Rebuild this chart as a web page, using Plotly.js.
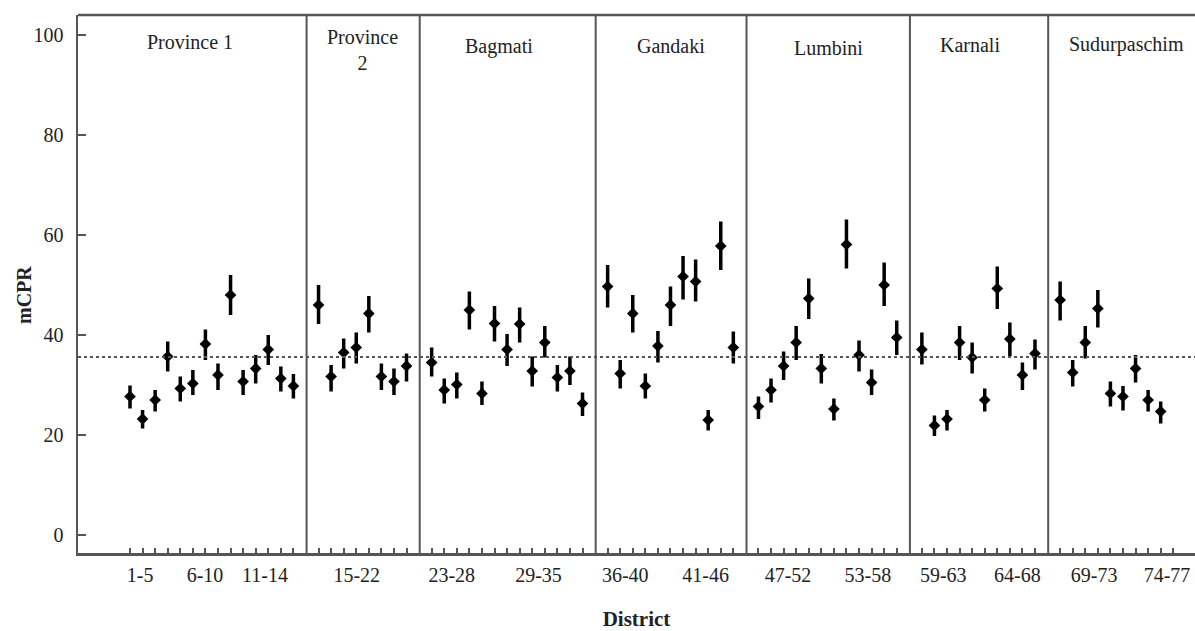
<!DOCTYPE html>
<html>
<head>
<meta charset="utf-8">
<script src="https://cdn.plot.ly/plotly-3.0.1.min.js"></script>
<style>html,body{margin:0;padding:0;background:#fff;}#chart{width:1195px;height:631px;}</style>
</head>
<body>
<div id="chart"></div>
<script>
// Provinces (in order) and the district count of each
const provinces = ["Province 1", "Province<br>2", "Bagmati", "Gandaki", "Lumbini", "Karnali", "Sudurpaschim"];
const provinceSizes = [14, 8, 13, 11, 12, 10, 9];

// District numbers 1..77
const districts = [
  1,2,3,4,5,6,7,8,9,10,11,12,13,14,
  15,16,17,18,19,20,21,22,
  23,24,25,26,27,28,29,30,31,32,33,34,35,
  36,37,38,39,40,41,42,43,44,45,46,
  47,48,49,50,51,52,53,54,55,56,57,58,
  59,60,61,62,63,64,65,66,67,68,
  69,70,71,72,73,74,75,76,77
];

// mCPR estimates
const mcpr = [
  27.7,23.2,27.0,35.7,29.3,30.3,38.2,32.0,48.0,30.7,33.3,37.1,31.3,29.8,
  46.0,31.7,36.5,37.5,44.3,31.7,30.7,33.8,
  34.5,29.0,30.1,45.0,28.3,42.3,37.1,42.2,32.8,38.5,31.5,32.8,26.3,
  49.7,32.3,44.3,29.8,37.8,46.0,51.7,50.7,23.0,57.8,37.5,
  25.7,29.0,33.8,38.5,47.3,33.3,25.2,58.1,36.0,30.5,50.0,39.5,
  37.1,21.9,23.2,38.5,35.5,27.0,49.3,39.2,32.0,36.3,
  47.0,32.5,38.5,45.3,28.3,27.7,33.3,27.0,24.7
];
// Lower and upper interval limits
const lower = [
  25.3,21.3,24.7,32.7,26.7,28.0,35.0,29.0,44.0,28.0,30.3,34.0,28.7,27.3,
  42.2,28.7,33.3,34.3,40.5,29.0,28.0,30.7,
  31.7,26.3,27.3,41.1,26.0,38.7,33.8,38.5,29.7,35.5,28.7,30.0,23.8,
  45.5,29.3,40.5,27.3,34.5,41.8,47.1,46.7,20.9,53.0,34.3,
  23.2,26.5,31.0,35.0,43.2,30.3,22.9,53.3,32.7,28.0,45.8,36.0,
  34.1,19.8,20.9,35.0,32.3,24.7,45.2,35.7,29.0,33.1,
  42.9,29.7,35.3,41.5,25.7,24.9,30.5,24.7,22.3
];
const upper = [
  29.9,25.0,29.0,38.7,31.7,33.0,41.1,34.3,52.0,33.0,36.0,40.0,33.7,32.2,
  50.0,34.0,39.3,40.5,47.8,34.3,33.3,36.3,
  37.5,31.3,32.5,48.7,30.7,45.8,40.2,45.5,35.7,41.8,34.0,35.7,28.5,
  54.0,35.0,48.0,32.3,40.8,49.7,55.8,55.1,25.0,62.7,40.7,
  27.7,31.3,36.7,41.8,51.3,36.2,27.3,63.1,38.9,33.1,54.5,42.9,
  40.5,23.9,25.0,41.8,38.5,29.3,53.7,42.5,34.5,39.1,
  50.7,35.0,41.8,49.0,30.7,29.8,36.0,29.0,26.7
];

// National reference level (dotted line)
const nationalMCPR = 35.6;

// Bottom axis group labels
const groupLabels = ["1-5","6-10","11-14","15-22","23-28","29-35","36-40","41-46","47-52","53-58","59-63","64-68","69-73","74-77"];
const groupLabelPos = [1.8, 6.97, 11.74, 19.04, 26.6, 33.5, 40.4, 46.8, 53.35, 59.7, 65.7, 71.6, 77.7, 83.5];

// y-axis ticks
const yTicks = [0, 20, 40, 60, 80, 100];

// --- build slot positions: each province is followed by one empty slot for its divider
const provinceOfDistrict = [];
provinceSizes.forEach((n, p) => { for (let i = 0; i < n; i++) provinceOfDistrict.push(p); });
const slot = districts.map((d, i) => d + provinceOfDistrict[i]);
const tickSlots = slot.concat([slot[slot.length - 1] + 1]);

// divider positions (slot after each province's last district)
const dividers = [];
let cum = 0;
provinceSizes.forEach((n, p) => {
  cum += n;
  if (p < provinceSizes.length - 1) dividers.push(cum + p + 1.05);
});

// province label positions
const provLabelX = [5.77, 19.46, 30.36, 44.04, 56.6, 67.8, 80.3];
const provLabelY = [98.6, 97.0, 97.7, 97.9, 97.5, 98.1, 98.1];

const font = "Liberation Serif";
const axisCol = "#555";

const trace = {
  x: slot,
  y: mcpr,
  type: "scatter",
  mode: "markers",
  marker: { symbol: "diamond", size: 9, color: "#000" },
  error_y: {
    type: "data",
    symmetric: false,
    array: upper.map((u, i) => u - mcpr[i]),
    arrayminus: mcpr.map((m, i) => m - lower[i]),
    color: "#000",
    thickness: 3.5,
    width: 0
  },
  showlegend: false,
  hoverinfo: "x+y"
};

const shapes = [];
dividers.forEach(dx => shapes.push({
  type: "line", xref: "x", yref: "paper", x0: dx, x1: dx, y0: 0, y1: 1,
  line: { color: axisCol, width: 2 }
}));
// top border
shapes.push({ type: "line", xref: "paper", yref: "paper", x0: 0, x1: 1, y0: 1, y1: 1, line: { color: axisCol, width: 2.5 } });
// national dotted line
shapes.push({ type: "line", xref: "paper", yref: "y", x0: 0, x1: 1, y0: nationalMCPR, y1: nationalMCPR,
  line: { color: "#555", width: 2, dash: "dot" } });

const annotations = provinces.map((p, i) => ({
  x: provLabelX[i], y: provLabelY[i], xref: "x", yref: "y",
  text: p, showarrow: false, xanchor: "center", yanchor: "middle",
  font: { family: font, size: 20, color: "#222" }
}));
// y-axis title placed as a rotated annotation
annotations.push({
  x: 0, xref: "paper", xshift: -54, y: 48, yref: "y",
  text: "<b>mCPR</b>", textangle: -90, showarrow: false,
  xanchor: "center", yanchor: "middle",
  font: { family: font, size: 20, color: "#222" }
});

const layout = {
  width: 1195, height: 631,
  margin: { l: 78, r: 0, t: 15, b: 78, pad: 0 },
  paper_bgcolor: "#fff", plot_bgcolor: "#fff",
  font: { family: font, size: 20, color: "#222" },
  xaxis: {
    range: [-3.137, 85.73],
    tickmode: "array", tickvals: tickSlots, ticktext: tickSlots.map(() => ""),
    ticks: "inside", ticklen: 5, tickwidth: 2, tickcolor: axisCol,
    showline: true, linecolor: axisCol, linewidth: 2.5,
    showgrid: false, zeroline: false,
    title: { text: "<b>District</b>", font: { family: font, size: 21, color: "#222" }, standoff: 58 }
  },
  xaxis2: {
    overlaying: "x", anchor: "y", side: "bottom",
    range: [-3.137, 85.73],
    tickmode: "array", tickvals: groupLabelPos, ticktext: groupLabels,
    ticks: "", showline: false, showgrid: false, zeroline: false,
    ticklabelstandoff: 8,
    tickfont: { family: font, size: 20, color: "#222" }
  },
  yaxis: {
    range: [-3.6, 104],
    tickmode: "array", tickvals: yTicks,
    ticks: "inside", ticklen: 8, tickwidth: 2, tickcolor: axisCol,
    showline: true, linecolor: axisCol, linewidth: 2.5,
    showgrid: false, zeroline: false,
    ticklabelstandoff: 8,
    tickfont: { family: font, size: 20, color: "#222" }
  },
  shapes: shapes,
  annotations: annotations
};

// dummy trace on xaxis2 so the overlay axis is drawn
const axis2Trace = { x: [groupLabelPos[0]], y: [null], xaxis: "x2", yaxis: "y", type: "scatter", mode: "markers", showlegend: false, hoverinfo: "skip" };

Plotly.newPlot("chart", [trace, axis2Trace], layout, { displayModeBar: false, staticPlot: true });
</script>
</body>
</html>
